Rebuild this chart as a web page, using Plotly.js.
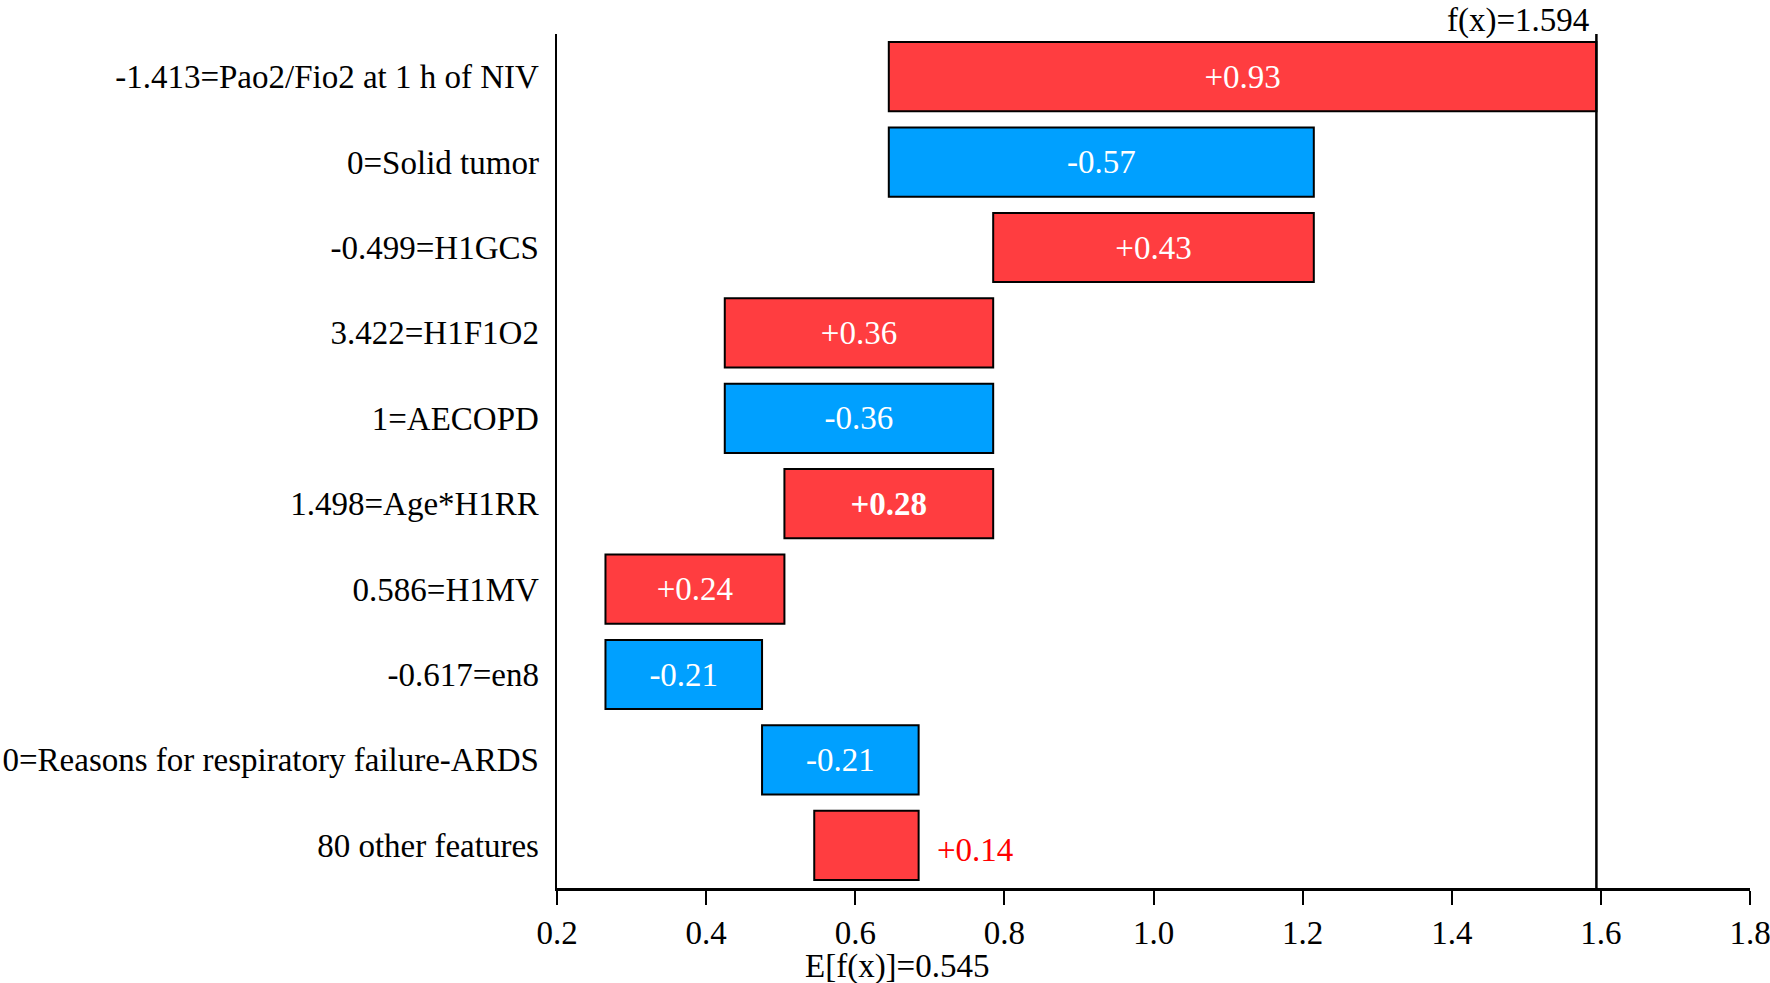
<!DOCTYPE html>
<html>
<head>
<meta charset="utf-8">
<script src="https://cdn.plot.ly/plotly-3.0.1.min.js"></script>
<style>html,body{margin:0;padding:0;background:#fff;}#chart{width:1770px;height:983px;}</style>
</head>
<body>
<div id="chart"></div>
<script>
// ---- data (top to bottom) ----
const features = [
  "-1.413=Pao2/Fio2 at 1 h of NIV",
  "0=Solid tumor",
  "-0.499=H1GCS",
  "3.422=H1F1O2",
  "1=AECOPD",
  "1.498=Age*H1RR",
  "0.586=H1MV",
  "-0.617=en8",
  "0=Reasons for respiratory failure-ARDS",
  "80 other features"
];
const contributions = [0.949, -0.57, 0.43, 0.36, -0.36, 0.28, 0.24, -0.21, -0.21, 0.14];
const valueLabels = ["+0.93", "-0.57", "+0.43", "+0.36", "-0.36", "+0.28", "+0.24", "-0.21", "-0.21", "+0.14"];
const boldLabels = [false, false, false, false, false, true, false, false, false, false];
const insideLabel = [true, true, true, true, true, true, true, true, true, false];
const expectedValue = 0.545;
const outputValue = 1.594;
const xTickValues = [0.2, 0.4, 0.6, 0.8, 1.0, 1.2, 1.4, 1.6, 1.8];

// ---- build waterfall from bottom up ----
const RED = "#FF3D40", BLUE = "#00A0FF";
const FONT = "'Times New Roman', 'Liberation Serif', serif";
const FS = 33;
const n = features.length;
const bases = new Array(n), widths = new Array(n), ends = new Array(n);
let running = expectedValue;
for (let i = n - 1; i >= 0; i--) {
  const s = running, e = running + contributions[i];
  bases[i] = Math.min(s, e);
  widths[i] = Math.abs(contributions[i]);
  ends[i] = Math.max(s, e);
  running = e;
}
const yIdx = features.map((_, i) => i);
const colors = contributions.map(v => v >= 0 ? RED : BLUE);
const texts = valueLabels.map((t, i) => insideLabel[i] ? (boldLabels[i] ? "<b>" + t + "</b>" : t) : "");

const trace = {
  type: "bar",
  orientation: "h",
  y: yIdx,
  x: widths,
  base: bases,
  width: 0.81,
  marker: { color: colors, line: { color: "#000", width: 2 } },
  text: texts,
  textposition: "inside",
  insidetextanchor: "middle",
  constraintext: "none",
  textangle: 0,
  textfont: { family: FONT, size: FS, color: "#fff" },
  hoverinfo: "skip"
};

const annotations = [
  { x: outputValue, y: 1, xref: "x", yref: "paper", xanchor: "right", yanchor: "bottom",
    xshift: -6, yshift: -6, borderpad: 0, text: "f(x)=" + outputValue.toFixed(3), showarrow: false,
    font: { family: FONT, size: FS, color: "#000" } },
  { x: expectedValue, y: 0, xref: "x", yref: "paper", xanchor: "left", yanchor: "middle",
    xshift: -10, yshift: -78, borderpad: 0, text: "E[f(x)]=" + expectedValue.toFixed(3), showarrow: false,
    font: { family: FONT, size: FS, color: "#000" } }
];
features.forEach((f, i) => {
  if (!insideLabel[i]) {
    annotations.push({ x: ends[i], y: i, xref: "x", yref: "y", xanchor: "left", yanchor: "middle",
      xshift: 16, yshift: -5, text: valueLabels[i], showarrow: false,
      font: { family: FONT, size: FS, color: "#FF0000" } });
  }
});

const layout = {
  width: 1770, height: 983,
  margin: { l: 557, r: 20, t: 34, b: 95, pad: 0 },
  paper_bgcolor: "#fff", plot_bgcolor: "#fff",
  showlegend: false,
  font: { family: FONT, size: FS, color: "#000" },
  xaxis: {
    range: [0.2, 1.8], tickvals: xTickValues, ticktext: xTickValues.map(v => v.toFixed(1)),
    ticks: "outside", ticklen: 14, tickwidth: 2, tickcolor: "#000",
    ticklabeloverflow: "allow",
    showline: true, linecolor: "#000", linewidth: 2.5, showgrid: false, zeroline: false,
    tickfont: { family: FONT, size: FS, color: "#000" }
  },
  yaxis: {
    range: [n - 0.5, -0.5], tickvals: yIdx, ticktext: features,
    ticks: "", showline: true, linecolor: "#000", linewidth: 2.5, showgrid: false, zeroline: false,
    ticklabelstandoff: 9,
    tickfont: { family: FONT, size: FS, color: "#000" }
  },
  shapes: [
    { type: "line", xref: "x", yref: "paper", x0: outputValue, x1: outputValue, y0: 0, y1: 1,
      line: { color: "#000", width: 2.5 } }
  ],
  annotations: annotations
};

Plotly.newPlot("chart", [trace], layout, { displayModeBar: false, staticPlot: true });
</script>
</body>
</html>
